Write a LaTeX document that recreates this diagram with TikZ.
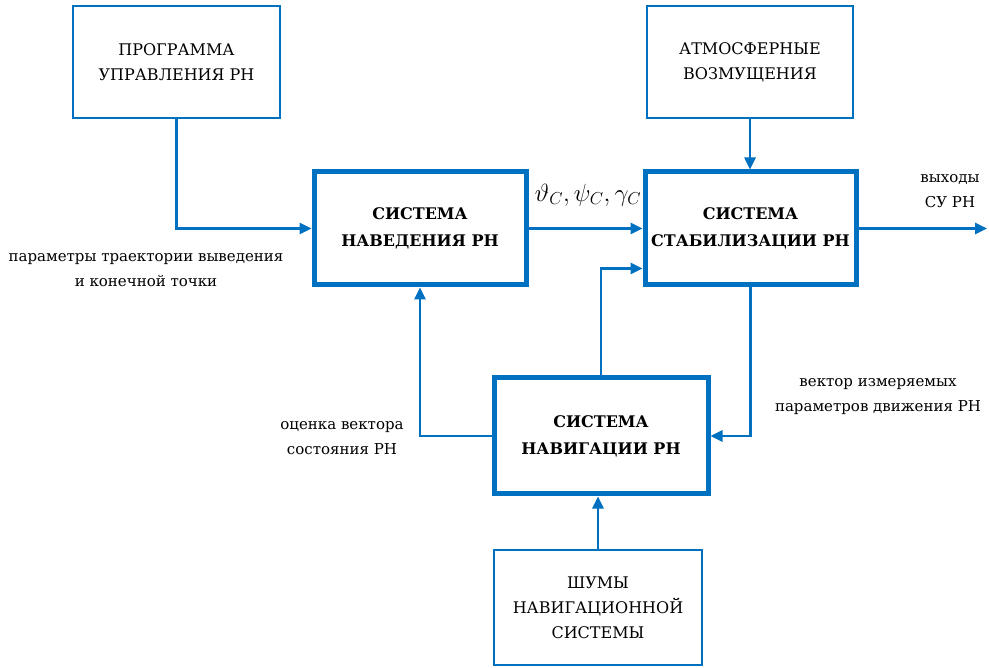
\documentclass[tikz,border=0pt]{standalone}
\usepackage{fontspec}
\setmainfont{DejaVu Serif}
\newfontfamily\dvs{DejaVu Serif}
\usetikzlibrary{arrows.meta,calc}
\definecolor{lineblue}{RGB}{0,112,192}
\tikzset{
  thinbox/.style={draw=lineblue,line width=2.5pt,fill=white,align=center,font=\dvs\fontsize{16}{25}\selectfont},
  thickbox/.style={draw=lineblue,line width=5pt,fill=white,align=center,font=\dvs\fontsize{16}{27}\selectfont\bfseries},
  conn/.style={draw=lineblue,line width=2.5pt,-{Triangle[length=12pt,width=11pt]}},
  lbl/.style={align=center,font=\dvs\fontsize{15}{25}\selectfont}
}
\begin{document}
\begin{tikzpicture}[x=1pt,y=-1pt]
\useasboundingbox (0,0) rectangle (989,668);
\node[thinbox,minimum width=207pt,minimum height=112pt] (prog) at (176.5,62) {ПРОГРАММА\\УПРАВЛЕНИЯ РН};
\node[thinbox,minimum width=206pt,minimum height=112pt] (atm) at (750,62) {АТМОСФЕРНЫЕ\\ВОЗМУЩЕНИЯ};
\node[thickbox,minimum width=212pt,minimum height=113pt] (nav) at (420,228.5) {СИСТЕМА\\НАВЕДЕНИЯ РН};
\node[thickbox,minimum width=211pt,minimum height=113pt] (stab) at (750.5,228.5) {СИСТЕМА\\СТАБИЛИЗАЦИИ РН};
\node[thickbox,minimum width=214pt,minimum height=116pt] (navig) at (601,436) {СИСТЕМА\\НАВИГАЦИИ РН};
\node[thinbox,minimum width=208pt,minimum height=115pt] (noise) at (598,607.5) {ШУМЫ\\НАВИГАЦИОННОЙ\\СИСТЕМЫ};
\coordinate (out) at (987,228.5);

\draw[conn] (prog.south) |- (nav.west);
\draw[conn] (nav.east) -- (stab.west);
\draw[conn] (atm.south) -- (atm.south |- stab.north);
\draw[conn] (stab.east) -- (out);
\draw[conn] (stab.south) |- (navig.east);
\draw[conn] (navig.north) |- ([yshift=-40pt]stab.west);
\draw[conn] (navig.west) -| (nav.south);
\draw[conn] (noise.north) -- (noise.north |- navig.south);

\node[lbl] (l1) at (146,270) {параметры траектории выведения\\и конечной точки};
\node[lbl] (l2) at (342,438) {оценка вектора\\состояния РН};
\node[lbl] (l3) at (878,397) {вектор измеряемых\\параметров движения РН};
\node[lbl] (l4) at (950,191) {выходы\\СУ РН};
\node[font=\fontsize{24}{28}\selectfont] (l5) at (588,195) {$\vartheta_C,\psi_C,\gamma_C$};
\end{tikzpicture}
\end{document}
